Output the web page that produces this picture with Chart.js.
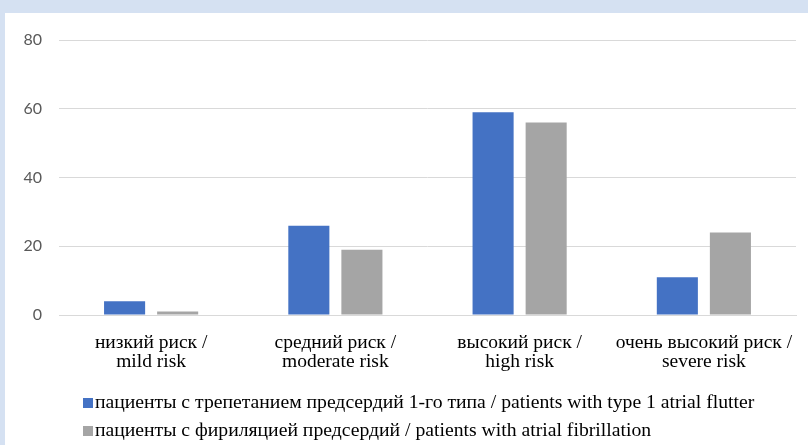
<!DOCTYPE html>
<html>
<head>
<meta charset="utf-8">
<script src="https://cdn.jsdelivr.net/npm/chart.js@4/dist/chart.umd.min.js"></script>
<style>
  html, body { margin: 0; padding: 0; }
  body { width: 808px; height: 445px; background: #d5e1f2; position: relative; overflow: hidden; }
  #panel { position: absolute; left: 5px; top: 13px; width: 803px; height: 432px; background: #ffffff; }
  #chart { position: absolute; left: 0; top: 0; }
  #legend { position: absolute; left: 78px; top: 374px; font-family: "Liberation Serif", "DejaVu Serif", serif; font-size: 19.7px; color: #000; }
  #legend .item { height: 28px; line-height: 28px; white-space: nowrap; }
  #legend .box { display: inline-block; width: 10px; height: 10px; margin-right: 2px; vertical-align: 0px; }
</style>
</head>
<body>
<div id="panel">
  <canvas id="chart" width="803" height="432"></canvas>
  <div id="legend"></div>
</div>
<script>
// Risk categories (two-line labels)
const categories = [
  ["низкий риск /", "mild risk"],
  ["средний риск /", "moderate risk"],
  ["высокий риск /", "high risk"],
  ["очень высокий риск /", "severe risk"]
];
const seriesNames = [
  "пациенты с трепетанием предсердий 1-го типа / patients with type 1 atrial flutter",
  "пациенты с фириляцией предсердий / patients with atrial fibrillation"
];
const flutterValues = [4, 26, 59, 11];
const fibrillationValues = [1, 19, 56, 24];
const yTicks = [0, 20, 40, 60, 80];

const colors = ["#4472c4", "#a5a5a5"];
const serifFont = "'Liberation Serif', 'DejaVu Serif', serif";

const chart = new Chart(document.getElementById("chart"), {
  type: "bar",
  data: {
    labels: categories,
    datasets: [
      { label: seriesNames[0], data: flutterValues, backgroundColor: colors[0] },
      { label: seriesNames[1], data: fibrillationValues, backgroundColor: colors[1] }
    ]
  },
  options: {
    responsive: false,
    animation: false,
    layout: { padding: { top: 27, right: 12, bottom: 56, left: 0 } },
    datasets: { bar: { categoryPercentage: 0.576, barPercentage: 0.774 } },
    plugins: { legend: { display: false }, tooltip: { enabled: false } },
    scales: {
      x: {
        // labels fit inside their category slots, so no extra side padding is needed
        afterFit: (scale) => { scale.paddingLeft = 0; scale.paddingRight = 0; },
        grid: { display: false, drawTicks: false },
        border: { display: true, color: "#d9d9d9", width: 1 },
        ticks: {
          padding: 18,
          maxRotation: 0,
          autoSkip: false,
          color: "#000000",
          font: { family: serifFont, size: 19.5, lineHeight: "19px" }
        }
      },
      y: {
        min: 0,
        max: 80,
        afterFit: (scale) => { scale.width = 54; },
        afterBuildTicks: (scale) => { scale.ticks = yTicks.map(v => ({ value: v })); },
        grid: { color: "#d9d9d9", lineWidth: 1, drawTicks: false },
        border: { display: false },
        ticks: {
          padding: 17,
          color: "#595959",
          font: { family: "Lato, 'Open Sans', sans-serif", size: 16 }
        }
      }
    }
  }
});

// Legend drawn from the chart's datasets
const legend = document.getElementById("legend");
chart.data.datasets.forEach(ds => {
  const item = document.createElement("div");
  item.className = "item";
  const box = document.createElement("span");
  box.className = "box";
  box.style.background = ds.backgroundColor;
  item.appendChild(box);
  item.appendChild(document.createTextNode(ds.label));
  legend.appendChild(item);
});
</script>
</body>
</html>
